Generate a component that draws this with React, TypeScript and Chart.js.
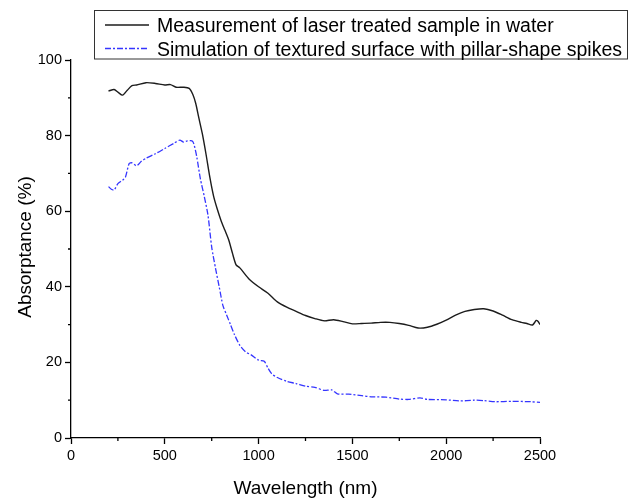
import { useEffect, useRef } from "react";
import { Chart, registerables } from "chart.js";

Chart.register(...registerables);

const measWavelength = [200, 230, 250, 275, 300, 325, 350, 400, 450, 500, 530, 560, 600, 630, 650, 665, 680, 700, 720, 740, 760, 780, 800, 820, 840, 860, 880, 900, 950, 1000, 1050, 1100, 1150, 1200, 1250, 1300, 1350, 1400, 1450, 1500, 1550, 1600, 1650, 1700, 1750, 1800, 1850, 1900, 1950, 2000, 2050, 2100, 2150, 2200, 2250, 2300, 2350, 2400, 2430, 2460, 2480, 2490, 2500];
const measAbsorptance = [91.8, 92.2, 91.5, 90.7, 92.0, 93.2, 93.4, 94.0, 93.8, 93.4, 93.5, 92.8, 92.8, 92.5, 90.8, 88.5, 85.0, 80.5, 75.0, 69.0, 64.0, 60.5, 57.5, 55.0, 52.5, 49.0, 45.8, 45.0, 42.0, 40.0, 38.3, 36.0, 34.6, 33.5, 32.4, 31.6, 31.0, 31.3, 30.8, 30.2, 30.3, 30.4, 30.6, 30.6, 30.3, 29.8, 29.1, 29.3, 30.1, 31.2, 32.5, 33.5, 34.0, 34.2, 33.6, 32.5, 31.3, 30.6, 30.3, 29.9, 31.1, 30.8, 30.0];

const simWavelength = [200, 215, 230, 250, 275, 290, 310, 325, 350, 375, 400, 450, 500, 550, 580, 600, 620, 645, 655, 670, 690, 710, 730, 750, 770, 790, 810, 830, 850, 870, 900, 930, 960, 1000, 1030, 1050, 1070, 1100, 1150, 1200, 1250, 1300, 1350, 1390, 1420, 1480, 1550, 1600, 1680, 1750, 1800, 1860, 1900, 2000, 2070, 2150, 2200, 2260, 2350, 2450, 2500];
const simAbsorptance = [66.5, 65.8, 65.6, 67.3, 68.2, 69.0, 72.6, 72.8, 72.0, 73.2, 74.0, 75.2, 76.6, 78.0, 78.8, 78.3, 78.6, 78.6, 77.8, 74.5, 68.5, 64.0, 59.0, 50.5, 45.0, 40.0, 35.0, 32.5, 30.0, 27.5, 24.5, 22.8, 22.0, 20.6, 20.3, 18.5, 17.0, 16.0, 15.0, 14.4, 13.7, 13.4, 12.6, 12.7, 11.7, 11.6, 11.2, 10.9, 10.8, 10.3, 10.2, 10.6, 10.2, 10.1, 9.8, 10.0, 9.9, 9.6, 9.7, 9.6, 9.4];

const xMin = 0;
const xMax = 2500;
const xMajorStep = 500;
const xMinorStep = 250;
const yMin = 0;
const yMax = 100;
const yMajorStep = 20;
const yMinorStep = 10;

const seriesLabels = [
  "Measurement of laser treated sample in water",
  "Simulation of textured surface with pillar-shape spikes",
];
const xTitle = "Wavelength (nm)";
const yTitle = "Absorptance (%)";

const FONT = "Arial, 'Liberation Sans', sans-serif";
const BLACK = "#1c1c1c";
const BLUE = "#3535ff";
const DASH = [6, 2, 2, 2];

export default function App() {
  const ref = useRef<HTMLCanvasElement | null>(null);

  useEffect(() => {
    const canvas = ref.current;
    if (!canvas) return;

    const decor = {
      id: "decor",
      afterDraw(chart: any) {
        const ctx = chart.ctx as CanvasRenderingContext2D;
        const xs = chart.scales.x;
        const ys = chart.scales.y;
        const area = chart.chartArea;
        ctx.save();
        // minor ticks
        ctx.strokeStyle = "#000";
        ctx.lineWidth = 1.3;
        ctx.beginPath();
        for (let v = xMin + xMinorStep; v < xMax; v += xMajorStep) {
          const px = xs.getPixelForValue(v);
          ctx.moveTo(px, area.bottom);
          ctx.lineTo(px, area.bottom + 3);
        }
        for (let v = yMin + yMinorStep; v < yMax; v += yMajorStep) {
          const py = ys.getPixelForValue(v);
          ctx.moveTo(area.left, py);
          ctx.lineTo(area.left - 3, py);
        }
        ctx.stroke();

        // axis titles
        ctx.fillStyle = "#000";
        ctx.font = `19px ${FONT}`;
        ctx.textAlign = "center";
        ctx.textBaseline = "alphabetic";
        ctx.fillText(xTitle, (area.left + area.right) / 2, 494);
        ctx.save();
        ctx.translate(31, (area.top + area.bottom) / 2 - 2);
        ctx.rotate(-Math.PI / 2);
        ctx.fillText(yTitle, 0, 0);
        ctx.restore();

        // legend
        ctx.lineWidth = 1;
        ctx.strokeStyle = "#333";
        ctx.strokeRect(94.5, 10.5, 533, 48.5);
        const rows = [
          { y: 25, color: BLACK, dash: [] as number[] },
          { y: 48.5, color: BLUE, dash: DASH },
        ];
        rows.forEach((r, i) => {
          ctx.beginPath();
          ctx.setLineDash(r.dash);
          ctx.strokeStyle = r.color;
          ctx.lineWidth = 1.3;
          ctx.moveTo(105, r.y);
          ctx.lineTo(149, r.y);
          ctx.stroke();
          ctx.setLineDash([]);
          ctx.fillStyle = "#000";
          ctx.font = `19.5px ${FONT}`;
          ctx.textAlign = "left";
          ctx.fillText(seriesLabels[i], 157, r.y + 7);
        });
        ctx.restore();
      },
    };

    const chart = new Chart(canvas, {
      type: "line",
      data: {
        datasets: [
          {
            label: seriesLabels[0],
            data: measWavelength.map((x, i) => ({ x, y: measAbsorptance[i] })),
            borderColor: BLACK,
            borderWidth: 1.4,
            pointRadius: 0,
            tension: 0.25,
            fill: false,
          },
          {
            label: seriesLabels[1],
            data: simWavelength.map((x, i) => ({ x, y: simAbsorptance[i] })),
            borderColor: BLUE,
            borderWidth: 1.3,
            borderDash: DASH,
            pointRadius: 0,
            tension: 0.25,
            fill: false,
          },
        ],
      },
      options: {
        responsive: false,
        animation: false,
        layout: { padding: { top: 60, right: 89, left: 0, bottom: 0 } },
        plugins: {
          legend: { display: false },
          tooltip: { enabled: false },
          title: { display: false },
        },
        scales: {
          x: {
            type: "linear",
            min: xMin,
            max: xMax,
            ticks: {
              stepSize: xMajorStep,
              color: "#000",
              font: { family: FONT, size: 14.5 },
              padding: 3,
              maxRotation: 0,
              callback: (v: any) => String(v),
            },
            grid: {
              drawOnChartArea: false,
              drawTicks: true,
              tickLength: 6,
              color: "#000",
              tickWidth: 1.3,
            },
            border: { display: true, color: "#000", width: 1.3 },
            afterFit: (s: any) => {
              s.height = 60;
            },
          },
          y: {
            type: "linear",
            min: yMin,
            max: yMax,
            ticks: {
              stepSize: yMajorStep,
              color: "#000",
              font: { family: FONT, size: 14.5 },
              padding: 3,
              callback: (v: any) => String(v),
            },
            grid: {
              drawOnChartArea: false,
              drawTicks: true,
              tickLength: 6,
              color: "#000",
              tickWidth: 1.3,
            },
            border: { display: true, color: "#000", width: 1.3 },
            afterFit: (s: any) => {
              s.width = 71;
            },
          },
        },
      },
      plugins: [decor],
    });

    return () => chart.destroy();
  }, []);

  return (
    <div style={{ position: "fixed", left: 0, top: 0, width: 629, height: 498, background: "#fff" }}>
      <canvas ref={ref} width={629} height={498} style={{ display: "block", width: 629, height: 498 }} />
    </div>
  );
}
